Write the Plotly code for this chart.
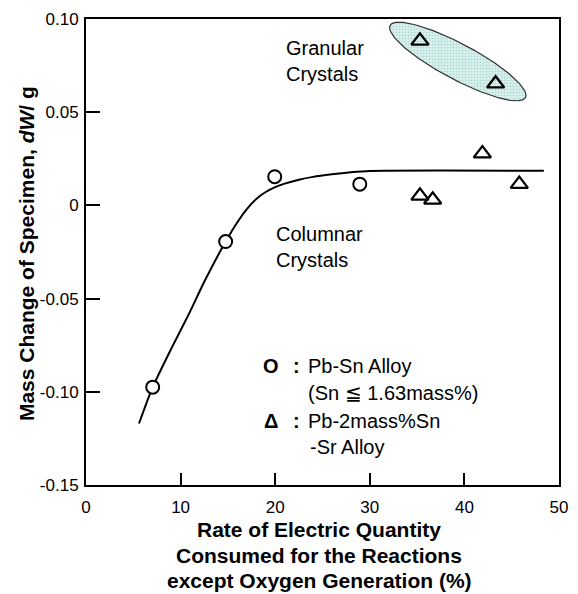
import numpy as np
import plotly.graph_objects as go

# ---- data ----
circle_x = [7.05, 14.76, 19.95, 28.94]
circle_y = [-0.0975, -0.0194, 0.0154, 0.0114]

tri_x = [35.3, 43.3, 41.9, 35.3, 36.65, 45.8]
tri_y = [0.0883, 0.0653, 0.0278, 0.0051, 0.0030, 0.0114]

curve_x = [5.6, 7.05, 9.0, 11.0, 12.5, 14.76, 16.0, 17.0, 18.0, 19.0, 20.0, 21.0,
           22.5, 24.0, 26.0, 28.0, 30.0, 48.4]
curve_y = [-0.117, -0.0975, -0.077, -0.057, -0.041, -0.0194, -0.009, -0.002, 0.0035,
           0.0072, 0.0098, 0.0117, 0.0138, 0.0153, 0.0167, 0.0178, 0.0185, 0.0186]

x_tickvals = [0, 10, 20, 30, 40, 50]
x_ticktext = ["0", "10", "20", "30", "40", "50"]
y_tickvals = [0.10, 0.05, 0.0, -0.05, -0.10, -0.15]
y_ticktext = ["0.10", "0.05", "0", "-0.05", "-0.10", "-0.15"]

X_RANGE = [0, 50]
Y_RANGE = [-0.15, 0.10]

# ---- layout geometry ----
W, H = 578, 594
ML, MR, MT, MB = 86, 10, 14, 109
PW, PH = W - ML - MR, H - MT - MB
sx = PW / (X_RANGE[1] - X_RANGE[0])   # px per x unit
sy = PH / (Y_RANGE[1] - Y_RANGE[0])   # px per y unit

# ellipse (highlight of granular crystals)
ell_cx, ell_cy = 39.3, 0.0772
ell_a, ell_b, ell_ang = 78, 18, np.deg2rad(27.8)  # pixels, tilt downward
t = np.linspace(0, 2 * np.pi, 200)
dxp = ell_a * np.cos(t) * np.cos(ell_ang) - ell_b * np.sin(t) * np.sin(ell_ang)
dyp = ell_a * np.cos(t) * np.sin(ell_ang) + ell_b * np.sin(t) * np.cos(ell_ang)
ell_x = ell_cx + dxp / sx
ell_y = ell_cy - dyp / sy

FONT = "Liberation Sans, Arial, Helvetica, sans-serif"

fig = go.Figure()
fig.add_trace(go.Scatter(
    x=ell_x, y=ell_y, mode="lines", fill="toself",
    line=dict(color="#333333", width=1.2),
    fillcolor="#d8f2ee",
    fillpattern=dict(shape=".", bgcolor="#dcf3ef", fgcolor="#86bdb8", size=3, solidity=0.35),
    hoverinfo="skip", showlegend=False))
fig.add_trace(go.Scatter(
    x=curve_x, y=curve_y, mode="lines",
    line=dict(color="black", width=2, shape="spline", smoothing=0.6),
    showlegend=False))
fig.add_trace(go.Scatter(
    x=circle_x, y=circle_y, mode="markers",
    marker=dict(symbol="circle", size=13, color="white", line=dict(color="black", width=2)),
    showlegend=False))
fig.add_trace(go.Scatter(
    x=tri_x, y=tri_y, mode="markers",
    marker=dict(symbol="triangle-up-open", size=15, color="black", line=dict(color="black", width=2.3)),
    showlegend=False))

axis_common = dict(showline=True, linecolor="black", linewidth=2, mirror=True,
                   ticks="inside", tickcolor="black", tickwidth=2,
                   showgrid=False, zeroline=False,
                   tickfont=dict(family=FONT, size=17, color="black"))
fig.update_xaxes(range=X_RANGE, tickvals=x_tickvals, ticktext=x_ticktext,
                 ticklen=12, ticklabelstandoff=6, **axis_common)
fig.update_yaxes(range=Y_RANGE, tickvals=y_tickvals, ticktext=y_ticktext,
                 ticklen=14, ticklabelstandoff=2, **axis_common)

def dx(px):
    return (px - ML) / sx

def dy(py):
    return Y_RANGE[1] - (py - MT) / sy

ann = []
txt = dict(family=FONT, size=20, color="black")
ann.append(dict(x=dx(288), y=dy(56), text="Granular<br>Crystals", xanchor="left", yanchor="middle",
                align="left", showarrow=False, font=txt))
ann.append(dict(x=dx(278), y=dy(244), text="Columnar<br>Crystals", xanchor="left", yanchor="middle",
                align="left", showarrow=False, font=txt))
# legend-like text block
ann.append(dict(x=dx(275), y=dy(365), text="<b>O</b>", xanchor="center", yanchor="middle", showarrow=False, font=txt))
ann.append(dict(x=dx(300), y=dy(365), text="<b>:</b>", xanchor="center", yanchor="middle", showarrow=False, font=txt))
ann.append(dict(x=dx(310), y=dy(365), text="Pb-Sn Alloy", xanchor="left", yanchor="middle", showarrow=False, font=txt))
ann.append(dict(x=dx(310), y=dy(392), text="(Sn \u2266 1.63mass%)", xanchor="left", yanchor="middle", showarrow=False, font=txt))
ann.append(dict(x=dx(275), y=dy(420), text="<b>\u0394</b>", xanchor="center", yanchor="middle", showarrow=False, font=txt))
ann.append(dict(x=dx(300), y=dy(420), text="<b>:</b>", xanchor="center", yanchor="middle", showarrow=False, font=txt))
ann.append(dict(x=dx(310), y=dy(420), text="Pb-2mass%Sn", xanchor="left", yanchor="middle", showarrow=False, font=txt))
ann.append(dict(x=dx(312), y=dy(447), text="-Sr Alloy", xanchor="left", yanchor="middle", showarrow=False, font=txt))

# axis titles
btxt = dict(family=FONT, size=21, color="black")
xt_lines = ["<b>Rate of Electric Quantity</b>", "<b>Consumed for the Reactions</b>",
            "<b>except Oxygen Generation (%)</b>"]
for line, py in zip(xt_lines, [530, 556.5, 582]):
    ann.append(dict(xref="paper", yref="paper", x=(323.5 - ML) / PW, y=(H - MB - py) / PH,
                    text=line, xanchor="center", yanchor="middle", showarrow=False, font=btxt))
ann.append(dict(xref="paper", yref="paper", x=(26 - ML) / PW, y=(H - MB - 251.5) / PH,
                text="<b>Mass Change of Specimen, <i>dW</i>/ g</b>", textangle=-90,
                xanchor="center", yanchor="middle", showarrow=False, font=btxt))

fig.update_layout(width=W, height=H, margin=dict(l=ML, r=MR, t=MT, b=MB),
                  paper_bgcolor="white", plot_bgcolor="white", annotations=ann,
                  showlegend=False)
fig.write_html("out.html")
